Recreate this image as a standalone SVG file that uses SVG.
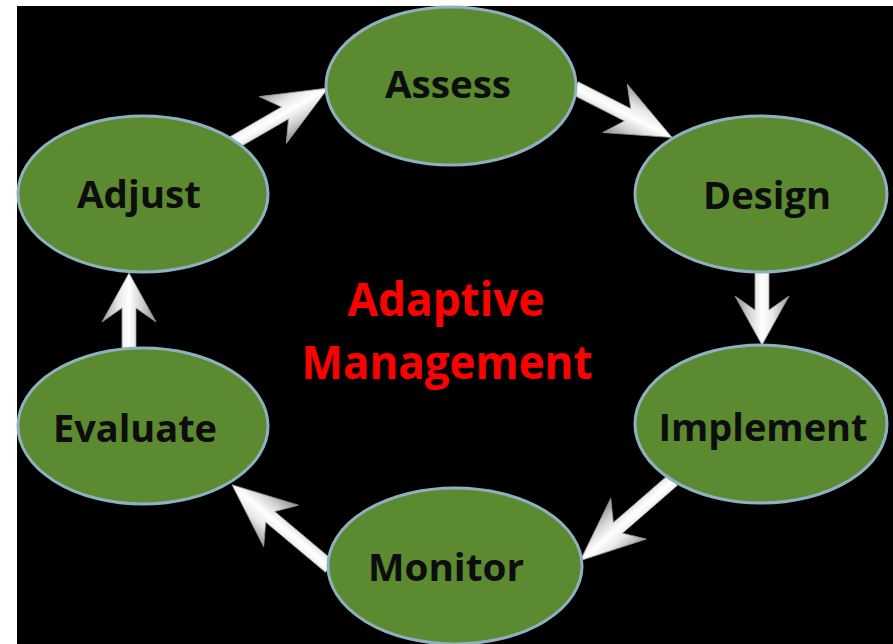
<svg xmlns="http://www.w3.org/2000/svg" width="893" height="644" viewBox="0 0 893 644">
<defs>
<linearGradient id="silver" x1="0" y1="0" x2="0" y2="1">
<stop offset="0" stop-color="#9a9a9a"/>
<stop offset="0.3" stop-color="#e8e8e8"/>
<stop offset="0.5" stop-color="#ffffff"/>
<stop offset="0.75" stop-color="#d0d0d0"/>
<stop offset="1" stop-color="#8c8c8c"/>
</linearGradient>
</defs>
<style>
.node ellipse{fill:#5b8a30;stroke:#8fb0c0;stroke-width:3}
.node text{font-family:"Open Sans","Liberation Sans",sans-serif;font-weight:700;font-size:37px;fill:#0d0d0d;text-anchor:middle}
.title{font-family:"Open Sans","Liberation Sans",sans-serif;font-weight:700;font-size:47px;fill:#ff0000;text-anchor:middle}
.arrow{fill:url(#silver);stroke:#9a9a9a;stroke-width:0.8}
</style>
<rect x="0" y="0" width="893" height="644" fill="#ffffff"/>
<rect x="17" y="6" width="876" height="638" fill="#000000"/>
<g id="connectors">
<path class="arrow" transform="translate(233,143) rotate(-30)" d="M0,-7 L60,-7 L46,-27 L110,0 L46,27 L60,7 L0,7 Z"/>
<path class="arrow" transform="translate(575,88) rotate(27)" d="M0,-7 L59,-7 L45,-27 L109,0 L45,27 L59,7 L0,7 Z"/>
<path class="arrow" transform="translate(762,272) rotate(90)" d="M0,-7 L38,-7 L24,-27 L73,0 L24,27 L38,7 L0,7 Z"/>
<path class="arrow" transform="translate(673,480) rotate(139)" d="M0,-7 L73,-7 L59,-27 L123,0 L59,27 L73,7 L0,7 Z"/>
<path class="arrow" transform="translate(330,567) rotate(220)" d="M0,-7 L78,-7 L64,-27 L128,0 L64,27 L78,7 L0,7 Z"/>
<path class="arrow" transform="translate(129,348) rotate(-90)" d="M0,-7 L40,-7 L26,-27 L75,0 L26,27 L40,7 L0,7 Z"/>
</g>
<g id="assess" class="node">
<ellipse cx="451" cy="86" rx="125" ry="79"/>
<text x="448" y="98" textLength="126" lengthAdjust="spacingAndGlyphs">Assess</text>
</g>
<g id="design" class="node">
<ellipse cx="761" cy="194" rx="126" ry="78"/>
<text x="767" y="209" textLength="128" lengthAdjust="spacingAndGlyphs">Design</text>
</g>
<g id="implement" class="node">
<ellipse cx="761" cy="424" rx="126" ry="79"/>
<text x="763" y="441" textLength="209" lengthAdjust="spacingAndGlyphs">Implement</text>
</g>
<g id="monitor" class="node">
<ellipse cx="455" cy="566" rx="127" ry="78"/>
<text x="446" y="581" textLength="156" lengthAdjust="spacingAndGlyphs">Monitor</text>
</g>
<g id="evaluate" class="node">
<ellipse cx="143" cy="426" rx="125" ry="78"/>
<text x="135" y="442" textLength="164" lengthAdjust="spacingAndGlyphs">Evaluate</text>
</g>
<g id="adjust" class="node">
<ellipse cx="143" cy="194" rx="125" ry="78"/>
<text x="139" y="208" textLength="124" lengthAdjust="spacingAndGlyphs">Adjust</text>
</g>
<g id="center">
<text class="title" x="446" y="316" textLength="197" lengthAdjust="spacingAndGlyphs">Adaptive</text>
<text class="title" x="447" y="379" textLength="291" lengthAdjust="spacingAndGlyphs">Management</text>
</g>
</svg>
